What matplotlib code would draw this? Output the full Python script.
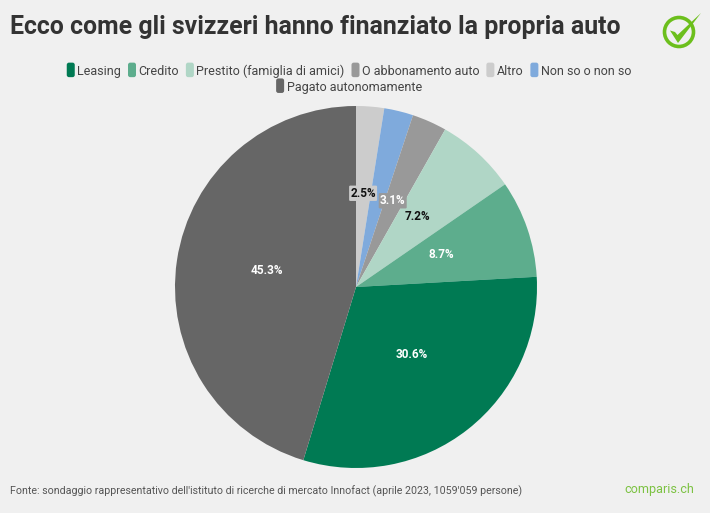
import matplotlib
matplotlib.use('Agg')
import matplotlib.pyplot as plt
from matplotlib.legend_handler import HandlerPatch
from matplotlib.patches import Circle, FancyBboxPatch, Patch, Polygon

plt.rcParams['font.family'] = ['Roboto', 'DejaVu Sans']

# clockwise from 12 o'clock, as in the picture
categories = ['Altro', 'Non so o non so', 'O abbonamento auto', 'Prestito (famiglia di amici)',
              'Credito', 'Leasing', 'Pagato autonomamente']
values = [2.5, 2.6, 3.1, 7.2, 8.7, 30.6, 45.3]
colors = ['#cccccc', '#7faadc', '#999999', '#b0d6c6', '#5dad8d', '#007a53', '#666666']
label_colors = ['#111111', '#ffffff', '#ffffff', '#111111', '#ffffff', '#ffffff', '#ffffff']
label_boxes = ['#cccccc', None, '#999999', None, None, None, None]
shown = [True, False, True, True, True, True, True]

legend_row1 = ['Leasing', 'Credito', 'Prestito (famiglia di amici)', 'O abbonamento auto', 'Altro', 'Non so o non so']
legend_row2 = ['Pagato autonomamente']

title = 'Ecco come gli svizzeri hanno finanziato la propria auto'
source = "Fonte: sondaggio rappresentativo dell'istituto di ricerche di mercato Innofact (aprile 2023, 1059'059 persone)"

BG = '#f0f0f0'
W, H = 710, 513
GREEN = '#6cbf1c'

fig = plt.figure(figsize=(W / 100, H / 100), dpi=100, facecolor=BG)

cx, cy, r = 356, 287, 181
ax = fig.add_axes([(cx - r) / W, (H - cy - r) / H, 2 * r / W, 2 * r / H])
wedges, _, pcts = ax.pie(values, colors=colors, startangle=90, counterclock=False, radius=1,
                         autopct='%.1f%%', pctdistance=0.5)
ax.set_xlim(-1, 1)
ax.set_ylim(-1, 1)

for t, col, box, show in zip(pcts, label_colors, label_boxes, shown):
    if not show:
        t.set_visible(False)
        continue
    x, y = t.get_position()
    t.set_position((x, y + 3.5 / r))
    t.set_color(col)
    t.set_fontsize(8.5)
    t.set_fontweight('bold')
    if box:
        t.set_bbox(dict(boxstyle='round,pad=0.1', fc=box, ec='none'))

# overlay in pixel coordinates for the page furniture
over = fig.add_axes([0, 0, 1, 1], facecolor='none')
over.set_xlim(0, W)
over.set_ylim(H, 0)
over.axis('off')

over.text(10, 27, title, fontsize=17.9, fontweight='bold', color='#333333', va='center', ha='left')
over.text(10, 491.5, source, fontsize=7.65, color='#555555', va='center', ha='left')
over.text(694, 490, 'comparis.ch', fontsize=9.1, color='#7cc242', va='center', ha='right')

# logo
over.add_patch(Circle((679, 32), 14.5, fc='none', ec=GREEN, lw=2.6))
over.add_patch(Polygon([(670, 30.5), (675, 32), (677.5, 35), (701, 13), (678, 43)], fc=GREEN, ec='none'))


class RoundHandle(HandlerPatch):
    def create_artists(self, legend, orig_handle, xdescent, ydescent, width, height, fontsize, trans):
        p = FancyBboxPatch((0, -1.4), width, height + 2.4, boxstyle='round,pad=0,rounding_size=1.6',
                           fc=orig_handle.get_facecolor(), ec='none', transform=trans)
        return [p]


color_of = dict(zip(categories, colors))


def make_legend(names, y):
    handles = [Patch(facecolor=color_of[n], label=n) for n in names]
    leg = fig.legend(handles=handles, loc='center', bbox_to_anchor=(349 / W, 1 - y / H), ncol=len(names),
                     frameon=False, fontsize=9.0, handlelength=0.64, handleheight=1.0, handletextpad=0.2,
                     columnspacing=0.55, labelcolor='#444444', borderpad=0, borderaxespad=0,
                     handler_map={Patch: RoundHandle()})
    return leg


make_legend(legend_row1, 71.5)
make_legend(legend_row2, 87.5)

fig.savefig('out.png', dpi=100, facecolor=BG)
